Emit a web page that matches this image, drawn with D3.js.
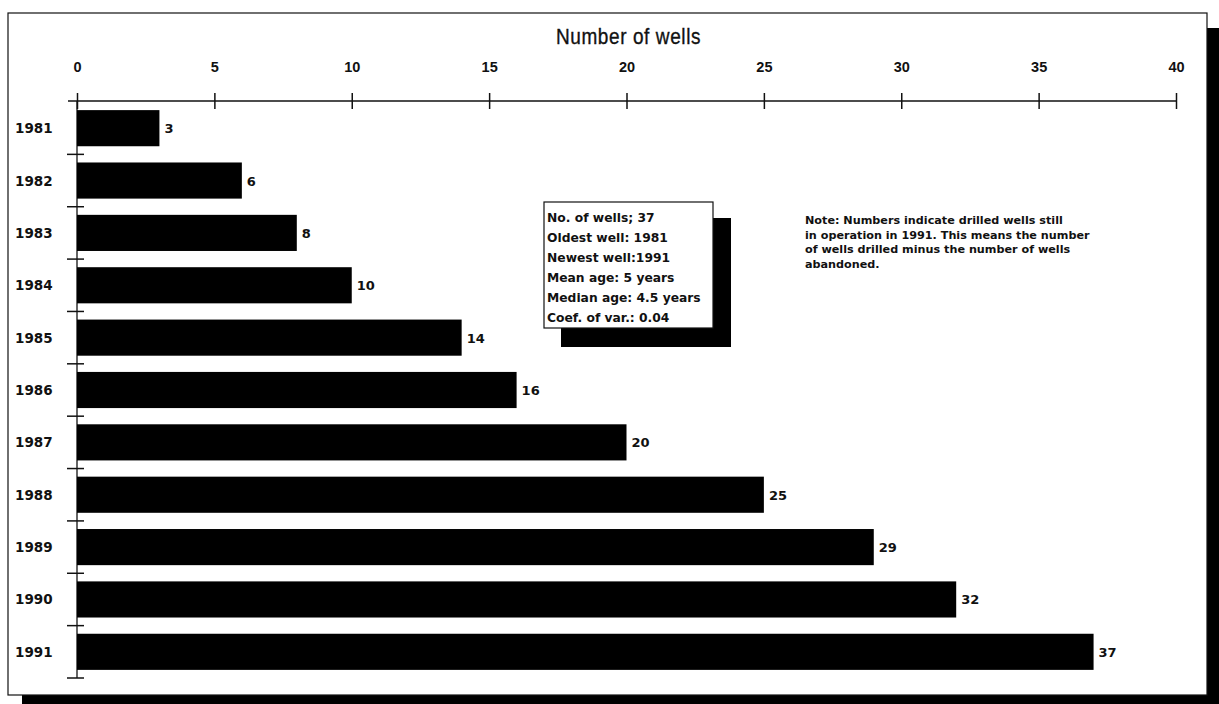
<!DOCTYPE html>
<html><head><meta charset="utf-8">
<script src="https://cdn.jsdelivr.net/npm/d3@7/dist/d3.min.js"></script>
<style>
html,body{margin:0;padding:0;background:#fff;}
svg{display:block;}
</style></head>
<body>
<svg id="c" width="1219" height="704"></svg>
<script>
const years = ["1981","1982","1983","1984","1985","1986","1987","1988","1989","1990","1991"];
const wells = [3,6,8,10,14,16,20,25,29,32,37];
const tickValues = [0,5,10,15,20,25,30,35,40];
const tickLabels = ["0","5","10","15","20","25","30","35","40"];
const axisTitle = "Number of wells";
const infoLines = ["No. of wells; 37","Oldest well: 1981","Newest well:1991","Mean age: 5 years","Median age: 4.5 years","Coef. of var.: 0.04"];
const noteLines = ["Note: Numbers indicate drilled wells still","in operation in 1991. This means the number","of wells drilled minus the number of wells","abandoned."];

const svg = d3.select("#c");
const boldFont = "'DejaVu Sans', Verdana, sans-serif";
const narrowFont = "'Liberation Sans',Arial,sans-serif";

// frame with shadow
svg.append("rect").attr("x",22).attr("y",28).attr("width",1197).attr("height",676).attr("fill","#000");
svg.append("rect").attr("x",8).attr("y",13).attr("width",1199).attr("height",682)
  .attr("fill","#fff").attr("stroke","#111").attr("stroke-width",1.2);

const x = d3.scaleLinear().domain([0,40]).range([77,1176]);
const y = d3.scaleBand().domain(years).range([102,678]).paddingInner(0.31).paddingOuter(0.155);

// top axis
const axTop = svg.append("g").attr("transform","translate(0,101)")
  .call(d3.axisTop(x).tickValues(tickValues).tickFormat((d,i)=>tickLabels[i]).tickSizeOuter(0).tickSizeInner(8));
axTop.select(".domain").attr("d",`M68,0H${x(40)}`).attr("stroke","#111").attr("stroke-width",1.3);
axTop.selectAll(".tick line").attr("y1",-8).attr("y2",8).attr("stroke","#111").attr("stroke-width",1.5);
axTop.selectAll(".tick text").attr("y",-29).attr("font-family",narrowFont).attr("font-weight","bold")
  .attr("font-size",14.5).attr("fill","#111");

svg.append("g").attr("transform",`translate(${(x(0)+x(40))/2 + 2},44) scale(1,1.15)`)
  .append("text").attr("text-anchor","middle")
  .attr("font-family",narrowFont).attr("font-size",19).attr("letter-spacing",0.6).attr("font-weight",500)
  .attr("fill","#111").attr("stroke","#111").attr("stroke-width",0.3).text(axisTitle);

// left axis: vertical line and band-boundary ticks
svg.append("line").attr("x1",x(0)).attr("x2",x(0)).attr("y1",101).attr("y2",678).attr("stroke","#111").attr("stroke-width",1.3);
const bounds = years.map(d=>y(d)-y.step()*y.paddingInner()/2).slice(1).concat([678]);
svg.selectAll(".ytick").data(bounds).enter().append("line")
  .attr("x1",67).attr("x2",84).attr("y1",d=>d).attr("y2",d=>d).attr("stroke","#111").attr("stroke-width",1.5);

// year labels
svg.selectAll(".ylab").data(years).enter().append("text")
  .attr("x",15).attr("y",d=>y(d)+y.bandwidth()/2+5)
  .attr("font-family",boldFont).attr("font-weight","bold").attr("font-size",13.5).attr("fill","#111")
  .text(d=>d);

// bars
svg.selectAll(".bar").data(wells).enter().append("rect")
  .attr("x",x(0)).attr("y",(d,i)=>y(years[i])).attr("width",d=>x(d)-x(0)).attr("height",y.bandwidth())
  .attr("fill","#000");

// value labels
svg.selectAll(".vlab").data(wells).enter().append("text")
  .attr("x",d=>x(d)+5).attr("y",(d,i)=>y(years[i])+y.bandwidth()/2+5)
  .attr("font-family",boldFont).attr("font-weight","bold").attr("font-size",13).attr("fill","#111")
  .text(d=>d);

// info box with shadow
svg.append("rect").attr("x",561).attr("y",218).attr("width",170).attr("height",129).attr("fill","#000");
svg.append("rect").attr("x",544).attr("y",202).attr("width",169).attr("height",126).attr("fill","#fff").attr("stroke","#111").attr("stroke-width",1.2);
svg.selectAll(".info").data(infoLines).enter().append("text")
  .attr("x",547).attr("y",(d,i)=>222+i*20)
  .attr("font-family",boldFont).attr("font-weight","bold").attr("font-size",12.3).attr("fill","#111")
  .text(d=>d);

// note
svg.selectAll(".note").data(noteLines).enter().append("text")
  .attr("x",805).attr("y",(d,i)=>224+i*14.5)
  .attr("font-family",boldFont).attr("font-weight","bold").attr("font-size",11.2).attr("fill","#111")
  .text(d=>d);
</script>
</body></html>
